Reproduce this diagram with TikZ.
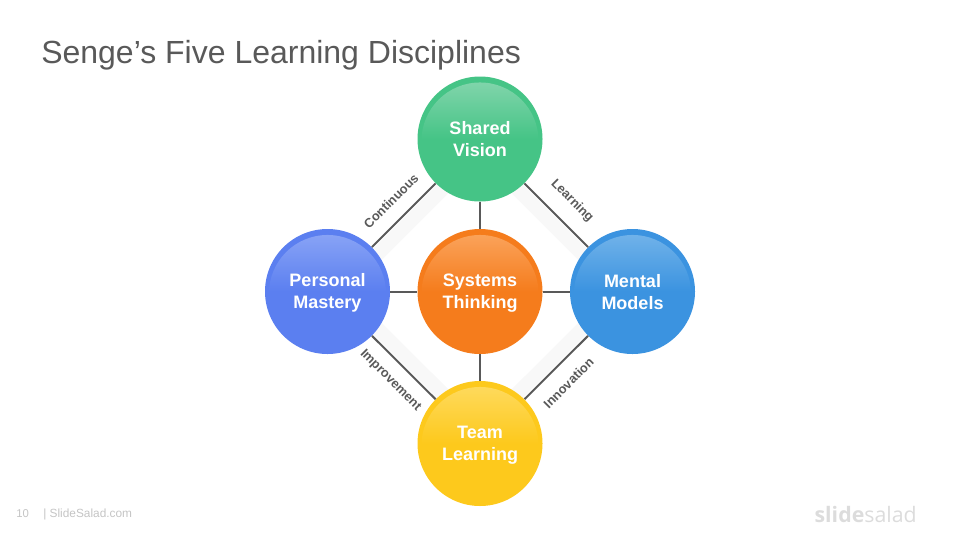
\documentclass[tikz,border=0pt]{standalone}
\usepackage{fontspec}
\setmainfont{Liberation Sans}
\newfontfamily\logofont{Open Sans}
\usetikzlibrary{backgrounds}
\definecolor{ink}{HTML}{595959}
\definecolor{bandgrey}{HTML}{F8F8F8}
\definecolor{footgrey}{HTML}{C4C4C4}
\definecolor{logogrey}{HTML}{DCDCDC}
\definecolor{greenbase}{HTML}{45C486}
\definecolor{greenlight}{HTML}{86D6AE}
\definecolor{bluebase}{HTML}{5B7FF0}
\definecolor{bluelight}{HTML}{8CA6F6}
\definecolor{orangebase}{HTML}{F57C1C}
\definecolor{orangelight}{HTML}{FBA660}
\definecolor{skybase}{HTML}{3B93E0}
\definecolor{skylight}{HTML}{75B5EA}
\definecolor{yellowbase}{HTML}{FDC91C}
\definecolor{yellowlight}{HTML}{FEDB62}
\newcommand{\dl}{\rule[-2.25pt]{0pt}{14.25pt}}
\tikzset{
  x=0.75pt,y=-0.75pt,
  disc/.style n args={2}{circle,minimum size=93.75pt,inner sep=0pt,fill=#1,text=white,align=center,
    font=\fontsize{13.5}{16.5}\selectfont\bfseries,
    path picture={\fill[top color=#2,bottom color=#1,middle color=#1]
      ([yshift=-1.5pt]path picture bounding box.center) circle[radius=43.9pt];}},
  link/.style={draw=ink,line width=1.5pt},
  band/.style={draw=bandgrey,line width=10.5pt},
  tag/.style={text=ink,font=\fontsize{9.6}{12}\selectfont\bfseries,inner sep=0pt},
}
\begin{document}
\begin{tikzpicture}
\useasboundingbox (0,0) rectangle (960,540);
\node[anchor=west,text=ink,font=\fontsize{24}{28}\selectfont,inner sep=0pt] (title) at (41,55) {Senge’s Five Learning Disciplines};
\node[disc={greenbase}{greenlight}] (sv) at (480,139) {\dl Shared\\\dl Vision};
\node[disc={bluebase}{bluelight}] (pm) at (327.5,291.5) {\dl Personal\\\dl Mastery};
\node[disc={orangebase}{orangelight}] (st) at (480,291.5) {\dl Systems\\\dl Thinking};
\node[disc={skybase}{skylight}] (mm) at (632.5,291.5) {\dl Mental\\\dl Models};
\node[disc={yellowbase}{yellowlight}] (tl) at (480,443.5) {\dl Team\\\dl Learning};
\begin{scope}[on background layer]
  \draw[band,transform canvas={shift={(6.4,6.4)}}] (sv.center) -- (pm.center);
  \draw[band,transform canvas={shift={(-6.4,6.4)}}] (sv.center) -- (mm.center);
  \draw[band,transform canvas={shift={(6.4,-6.4)}}] (pm.center) -- (tl.center);
  \draw[band,transform canvas={shift={(-6.4,-6.4)}}] (mm.center) -- (tl.center);
\end{scope}
\draw[link] (sv) -- (pm);
\draw[link] (sv) -- (mm);
\draw[link] (pm) -- (tl);
\draw[link] (mm) -- (tl);
\draw[link] (sv) -- (st);
\draw[link] (pm) -- (st);
\draw[link] (st) -- (mm);
\draw[link] (st) -- (tl);
\node[tag,rotate=45] (lc) at (391,201) {Continuous};
\node[tag,rotate=-45] (ll) at (572,201) {Learning};
\node[tag,rotate=-45] (li) at (390.5,380.5) {Improvement};
\node[tag,rotate=45] (ln) at (568.5,383) {Innovation};
\node[anchor=west,text=footgrey,font=\fontsize{8.5}{10}\selectfont,inner sep=0pt] (pg) at (16,514) {10};
\node[anchor=west,text=footgrey,font=\fontsize{8.9}{10}\selectfont,inner sep=0pt] (site) at (43,514) {| SlideSalad.com};
\node[anchor=east,text=logogrey,font=\logofont\fontsize{16}{20}\selectfont,inner sep=0pt] (logo) at (917,514) {\textbf{slide}salad};
\end{tikzpicture}
\end{document}
